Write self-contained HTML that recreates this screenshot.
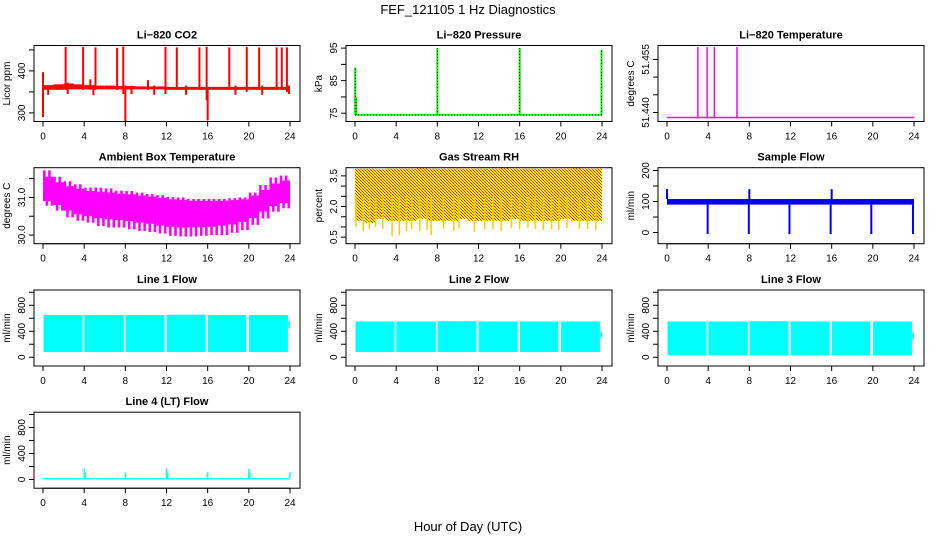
<!DOCTYPE html>
<html><head><meta charset="utf-8"><title>FEF_121105 1 Hz Diagnostics</title>
<style>
html,body{margin:0;padding:0;background:#fff;}
svg{display:block;font-family:"Liberation Sans",Arial,sans-serif;}
</style></head>
<body>
<svg id="chart" width="936" height="540" viewBox="0 0 936 540" xmlns="http://www.w3.org/2000/svg">
<defs>
<pattern id="rhpat" width="3" height="3" patternUnits="userSpaceOnUse">
<rect width="3" height="3" fill="#ffff00"/><rect x="0" y="0" width="1" height="1" fill="#ff0000"/><rect x="2" y="2" width="1" height="1" fill="#ff0000"/><rect x="1" y="1" width="1" height="1" fill="#ff3000"/>
</pattern>
</defs>
<text x="468" y="14" text-anchor="middle" font-size="13">FEF_121105  1 Hz Diagnostics</text>
<text x="468" y="531" text-anchor="middle" font-size="13">Hour of Day (UTC)</text>
</svg>
<script>
// ---------- data ----------
const xTicks = [0,4,8,12,16,20,24];
const hourBins = [0,1,2,3,4,5,6,7,8,9,10,11,12,13,14,15,16,17,18,19,20,21,22,23];

// Li-820 CO2
const co2BandLo = [355,355,356,356,356,356,356,356,356,356,356,356,355,355,355,355,355,355,355,355,355,355,355,355];
const co2BandHi = [366,368,370,368,366,365,365,364,364,363,363,363,362,362,362,362,362,362,362,362,362,362,362,362];
const co2SpikeHours = [0.0,0.5,2.2,2.4,3.9,4.6,4.9,5.1,7.2,7.8,8.0,8.6,10.2,10.8,11.9,13.0,13.9,15.2,15.9,16.0,18.1,18.7,19.8,21.0,21.3,22.7,23.2,23.7,23.9];
const co2SpikeMin = [290,343,355,345,355,355,342,355,355,345,280,345,355,343,345,355,343,355,330,282,355,343,350,355,343,355,355,350,345];
const co2SpikeMax = [397,365,457,372,457,380,365,456,455,458,365,365,378,365,457,456,365,456,457,360,456,365,457,456,365,456,456,456,365];

// Li-820 Pressure
const presBase = 74.5;
const presSpikeHours = [0.02,0.1,8.0,16.0,23.95];
const presSpikeMax = [89,80,95,95,94.5];

// Li-820 Temperature
const tempBase = 51.4386;
const tempSpikeHours = [3.0,3.9,4.6,6.8];
const tempSpikeMax = [51.4585,51.4585,51.4585,51.4585];

// Ambient box temperature
const ambHi = [31.72,31.55,31.43,31.35,31.26,31.26,31.24,31.18,31.17,31.13,31.09,31.06,31.01,31.0,30.96,30.96,30.96,30.96,30.98,31.0,31.13,31.33,31.53,31.58];
const ambLo = [30.78,30.65,30.47,30.38,30.33,30.24,30.2,30.2,30.15,30.11,30.08,30.04,29.98,29.96,29.96,29.98,30.0,30.0,30.06,30.13,30.27,30.44,30.62,30.71];
const ambCoreHi = [31.5,31.35,31.25,31.18,31.12,31.1,31.08,31.05,31.03,31.0,30.97,30.94,30.9,30.88,30.86,30.86,30.86,30.86,30.88,30.9,31.0,31.15,31.32,31.4];
const ambCoreLo = [30.95,30.85,30.7,30.6,30.55,30.5,30.47,30.45,30.42,30.38,30.35,30.3,30.27,30.25,30.25,30.26,30.27,30.3,30.33,30.4,30.5,30.67,30.82,30.9];

// Gas stream RH
const rhHi = [3.85,3.85,3.82,3.85,3.85,3.85,3.88,3.85,3.85,3.85,3.85,3.85,3.85,3.85,3.88,3.85,3.85,3.85,3.85,3.85,3.85,3.88,3.85,3.85];
const rhLo = [1.3,1.2,1.4,1.3,1.3,1.3,1.4,1.3,1.3,1.3,1.4,1.3,1.3,1.3,1.3,1.4,1.3,1.3,1.3,1.3,1.4,1.3,1.3,1.3];
const rhDipHours = [0.1,0.8,1.4,2.0,2.7,3.6,4.3,5.0,5.5,6.3,7.0,7.4,8.6,9.6,10.1,11.6,12.6,13.4,14.2,15.2,16.0,16.8,17.5,18.3,19.1,19.8,20.6,21.8,22.6,23.4];
const rhDipMin = [1.0,0.8,0.9,1.0,0.9,0.55,0.6,0.8,0.9,0.8,0.85,0.6,0.9,0.8,0.95,0.75,0.9,0.9,0.8,0.95,0.9,0.95,0.9,0.85,0.9,0.85,0.95,0.9,0.9,0.85];

// Sample flow
const sfBandLo = 90, sfBandHi = 108;
const sfDipHours = [3.95,7.95,11.9,15.9,19.85,23.9];
const sfDipMin = [-5,-5,-5,-5,-5,-5];
const sfPeakHours = [0.0,8.0,16.0];
const sfPeakMax = [140,140,140];

// Line flows (segment starts/ends in hours, band low/high in ml/min)
const flowSegStart = [0.05,4.02,8.02,12.02,16.02,20.02];
const flowSegEnd = [3.85,7.85,11.8,15.8,19.75,23.8];
const line1Lo = [80,80,80,80,80,80], line1Hi = [650,650,650,655,650,650];
const line2Lo = [80,80,80,80,80,80], line2Hi = [550,550,555,550,550,550];
const line3Lo = [30,30,30,30,30,30], line3Hi = [550,550,555,550,550,550];
const lineTailLo = [450,300,280], lineTailHi = [560,400,380];

// Line 4 (LT) flow
const l4Base = [0,20];
const l4SpikeHours = [4.0,4.1,8.0,12.0,12.1,16.0,20.0,20.1,24.0];
const l4SpikeMax = [170,110,110,170,110,110,160,110,110];

// ---------- drawing ----------
const svg = document.getElementById('chart');
const NS = 'http://www.w3.org/2000/svg';
function mk(tag, attrs, parent){
  const e = document.createElementNS(NS, tag);
  for (const k in attrs) e.setAttribute(k, attrs[k]);
  (parent||svg).appendChild(e);
  return e;
}
const colL = [34,346,658], rowT = [45.5,167.7,290,412.2];
const BW = 266, BH = 76;

function panel(name, c, r, title, ylab, ymin, ymax, ticks, labels){
  const g = mk('g', {});
  
  
  const L = colL[c], T = rowT[r], R = L + BW, B = T + BH;
  const xs = h => L + 9 + h * (BW - 19) / 24;
  const ys = v => B - (v - ymin) / (ymax - ymin) * BH;
  const plot = mk('g', {}, g);
  
  
  const box = mk('rect', {x:L, y:T, width:BW, height:BH, fill:'none', stroke:'#000', 'stroke-width':1}, g);
  
  
  const t = mk('text', {x:L + BW/2, y:T - 7, 'text-anchor':'middle', 'font-size':11, 'font-weight':'bold'}, g);
  t.textContent = title;
  
  
  const xa = mk('g', {}, g);
  
  
  mk('line', {x1:xs(0), x2:xs(24), y1:B, y2:B, stroke:'#000'}, xa);
  xTicks.forEach(h => {
    mk('line', {x1:xs(h), x2:xs(h), y1:B, y2:B + 5, stroke:'#000'}, xa);
    const tl = mk('text', {x:xs(h), y:B + 18, 'text-anchor':'middle', 'font-size':10}, xa);
    tl.textContent = h;
    
    
  });
  const ya = mk('g', {}, g);
  
  
  mk('line', {x1:L, x2:L, y1:ys(ticks[0]), y2:ys(ticks[ticks.length-1]), stroke:'#000'}, ya);
  ticks.forEach(v => mk('line', {x1:L - 5, x2:L, y1:ys(v), y2:ys(v), stroke:'#000'}, ya));
  labels.forEach(lb => {
    const tl = mk('text', {x:0, y:0, 'text-anchor':'middle', 'font-size':10,
      transform:'translate(' + (L - 9) + ',' + ys(lb[0]) + ') rotate(-90)'}, ya);
    tl.textContent = lb[1];
    
    
  });
  const yl = mk('text', {x:0, y:0, 'text-anchor':'middle', 'font-size':10,
    transform:'translate(' + (L - 24) + ',' + (T + BH/2) + ') rotate(-90)'}, g);
  yl.textContent = ylab;
  
  
  return {plot, xs, ys};
}
function vseg(p, h, lo, hi, col, w){
  const l = mk('line', {x1:p.xs(h), x2:p.xs(h), y1:p.ys(lo), y2:p.ys(hi), stroke:col, 'stroke-width':w||1}, p.plot);
  
  
}
function band(p, h0, h1, lo, hi, fill){
  const r = mk('rect', {x:p.xs(h0), y:p.ys(hi), width:Math.max(0.5, p.xs(h1) - p.xs(h0)), height:Math.max(1, p.ys(lo) - p.ys(hi)), fill:fill}, p.plot);
  
  
}

// 1 CO2
let p = panel('co2-panel', 0, 0, 'Li\u2212820 CO2', 'Licor ppm', 279.5, 460.5, [300,350,400,450], [[300,'300'],[400,'400']]);
hourBins.forEach((h,i) => band(p, h, h + 1, co2BandLo[i], co2BandHi[i], '#ff0000'));
co2SpikeHours.forEach((h,i) => vseg(p, h, co2SpikeMin[i], co2SpikeMax[i], '#ff0000', 2));

// 2 Pressure
p = panel('pressure-panel', 1, 0, 'Li\u2212820 Pressure', 'kPa', 72.45, 95.8, [75,80,85,90,95], [[75,'75'],[85,'85'],[95,'95']]);
band(p, 0, 24, presBase - 0.3, presBase + 0.3, '#00ff00');
mk('line', {x1:p.xs(0), x2:p.xs(24), y1:p.ys(presBase), y2:p.ys(presBase), stroke:'#000', 'stroke-dasharray':'1,2'}, p.plot);
presSpikeHours.forEach((h,i) => {
  vseg(p, h, presBase, presSpikeMax[i], '#00ff00', 2);
  mk('line', {x1:p.xs(h), x2:p.xs(h), y1:p.ys(presBase), y2:p.ys(presSpikeMax[i]), stroke:'#000', 'stroke-dasharray':'1,2'}, p.plot);
});

// 3 Temperature
p = panel('temperature-panel', 2, 0, 'Li\u2212820 Temperature', 'degrees C', 51.43746, 51.45893, [51.440,51.445,51.450,51.455], [[51.440,'51.440'],[51.455,'51.455']]);
mk('line', {x1:p.xs(0), x2:p.xs(24), y1:p.ys(tempBase), y2:p.ys(tempBase), stroke:'#ff00ff', 'stroke-width':1.5}, p.plot);
tempSpikeHours.forEach((h,i) => vseg(p, h, tempBase - 0.0003, tempSpikeMax[i], '#ff00ff', 1.5));

// 4 Ambient
p = panel('ambient-temp-panel', 0, 1, 'Ambient Box Temperature', 'degrees C', 29.77, 31.79, [30.0,30.5,31.0,31.5], [[30.0,'30.0'],[31.0,'31.0']]);
hourBins.forEach((h,i) => {
  for (let k = 0; k < 4; k++) {
    const hh = h + k * 0.25;
    const lo = (k % 2) ? ambLo[i] : ambCoreLo[i] - 0.05;
    const hi = (k % 2 === 0) ? ambHi[i] : ambCoreHi[i] + 0.05;
    band(p, hh, hh + 0.25, lo, hi, '#ff00ff');
  }
  band(p, h, h + 1, ambCoreLo[i], ambCoreHi[i], '#ff00ff');
});

// 5 RH
p = panel('rh-panel', 1, 1, 'Gas Stream RH', 'percent', 0.18, 3.9, [0.5,1.0,1.5,2.0,2.5,3.0,3.5], [[0.5,'0.5'],[2.0,'2.0'],[3.5,'3.5']]);
hourBins.forEach((h,i) => band(p, h, h + 1, rhLo[i], rhHi[i], 'url(#rhpat)'));
rhDipHours.forEach((h,i) => vseg(p, h, rhDipMin[i], 2.5, '#ffcc00', 1.5));

// 6 Sample flow
p = panel('sample-flow-panel', 2, 1, 'Sample Flow', 'ml/min', -36, 209, [0,50,100,150,200], [[0,'0'],[100,'100'],[200,'200']]);
band(p, 0, 24, sfBandLo, sfBandHi, '#0000ff');
sfDipHours.forEach((h,i) => vseg(p, h, sfDipMin[i], sfBandLo, '#0000ff', 2));
sfPeakHours.forEach((h,i) => vseg(p, h, sfBandHi, sfPeakMax[i], '#0000ff', 2));

// 7-9 Line flows
function flowPanel(name, c, r, title, lo, hi){
  const q = panel(name, c, r, title, 'ml/min', -135, 1035, [0,200,400,600,800,1000], [[0,'0'],[400,'400'],[800,'800']]);
  flowSegStart.forEach((s,i) => band(q, s, flowSegEnd[i], lo[i], hi[i], '#00ffff'));
  band(q, 23.85, 24.0, lineTailLo[c], lineTailHi[c], '#00ffff');
  return q;
}
flowPanel('line1-flow-panel', 0, 2, 'Line 1 Flow', line1Lo, line1Hi);
flowPanel('line2-flow-panel', 1, 2, 'Line 2 Flow', line2Lo, line2Hi);
flowPanel('line3-flow-panel', 2, 2, 'Line 3 Flow', line3Lo, line3Hi);

// 10 Line 4
p = panel('line4-flow-panel', 0, 3, 'Line 4 (LT) Flow', 'ml/min', -135, 1035, [0,200,400,600,800,1000], [[0,'0'],[400,'400'],[800,'800']]);
band(p, 0, 24, l4Base[0], l4Base[1], '#00ffff');
l4SpikeHours.forEach((h,i) => vseg(p, h, l4Base[1], l4SpikeMax[i], '#00ffff', 1.5));
</script>
</body></html>
